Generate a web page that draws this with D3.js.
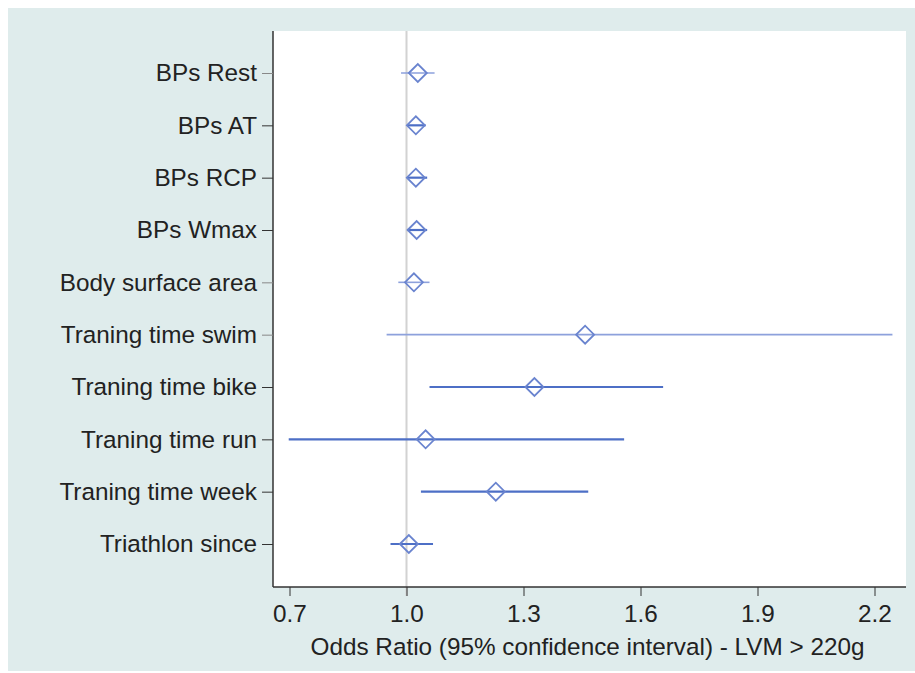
<!DOCTYPE html>
<html>
<head>
<meta charset="utf-8">
<script src="https://cdn.jsdelivr.net/npm/d3@7"></script>
<style>
  body { margin: 0; background: #fff; }
  text { font-family: "Liberation Sans", Arial, sans-serif; fill: #222; }
</style>
</head>
<body>
<svg id="chart" width="915" height="673"></svg>
<script>
// odds ratios with 95% CI
var labels = ["BPs Rest", "BPs AT", "BPs RCP", "BPs Wmax", "Body surface area",
              "Traning time swim", "Traning time bike", "Traning time run",
              "Traning time week", "Triathlon since"];
var oddsRatio = [1.029, 1.024, 1.024, 1.026, 1.019, 1.458, 1.328, 1.049, 1.229, 1.006];
var ciLow     = [0.986, 1.002, 1.002, 1.002, 0.979, 0.949, 1.059, 0.698, 1.037, 0.959];
var ciHigh    = [1.072, 1.049, 1.053, 1.053, 1.059, 2.246, 1.658, 1.558, 1.466, 1.068];
var xTicks = [0.7, 1.0, 1.3, 1.6, 1.9, 2.2];
var xTitle = "Odds Ratio (95% confidence interval) - LVM > 220g";

// rows drawn in the paler shade in the original
var paleRows = ["BPs Rest", "Body surface area", "Traning time swim"];

var svg = d3.select("#chart");
var plot = { left: 273, right: 906, top: 31, bottom: 587 };
var fontSize = "24.3px";

// panel background
svg.append("rect").attr("x", 8).attr("y", 8).attr("width", 907).attr("height", 663)
    .attr("fill", "#dfecec");
svg.append("rect")
    .attr("x", plot.left).attr("y", plot.top)
    .attr("width", plot.right - plot.left).attr("height", plot.bottom - plot.top)
    .attr("fill", "#fff");

var x = d3.scaleLinear().domain([1.0, 2.2]).range([406.5, 874.5]);
var y = d3.scalePoint().domain(labels).range([73, 544]);

// reference line at OR = 1
svg.append("line")
    .attr("x1", x(1)).attr("x2", x(1))
    .attr("y1", plot.top).attr("y2", plot.bottom + 9)
    .attr("stroke", "#d2d2d2").attr("stroke-width", 2);

// axes
var xAxis = svg.append("g")
    .attr("transform", "translate(0," + plot.bottom + ")")
    .call(d3.axisBottom(x).tickValues(xTicks).tickFormat(d3.format(".1f")).tickSize(9).tickPadding(9));
xAxis.select(".domain").attr("d", "M" + plot.left + ",0H" + plot.right).attr("stroke", "#333").attr("stroke-width", 1.5);
xAxis.selectAll(".tick line").attr("stroke", "#333");
xAxis.selectAll(".tick text").style("font-size", fontSize).attr("fill", "#222");

var yAxis = svg.append("g")
    .attr("transform", "translate(" + plot.left + ",0)")
    .call(d3.axisLeft(y).tickSize(11).tickPadding(5));
yAxis.select(".domain").attr("d", "M0," + plot.top + "V" + plot.bottom).attr("stroke", "#333").attr("stroke-width", 1.5);
yAxis.selectAll(".tick line").attr("stroke", function(d) { return paleRows.indexOf(d) >= 0 ? "#888" : "#333"; });
yAxis.selectAll(".tick text").style("font-size", fontSize).attr("fill", "#222");

svg.append("text")
    .attr("x", (plot.left + plot.right) / 2 - 2).attr("y", 655)
    .attr("text-anchor", "middle")
    .style("font-size", fontSize)
    .text(xTitle);

// CI lines and diamonds
var rows = labels.map(function(d, i) {
    return { name: d, or: oddsRatio[i], lo: ciLow[i], hi: ciHigh[i] };
});

var g = svg.append("g").selectAll("g").data(rows).enter().append("g");

g.append("line")
    .attr("x1", function(d) { return x(d.lo); })
    .attr("x2", function(d) { return x(d.hi); })
    .attr("y1", function(d) { return y(d.name); })
    .attr("y2", function(d) { return y(d.name); })
    .attr("stroke", function(d) { return paleRows.indexOf(d.name) >= 0 ? "#8da1dc" : "#4d6fc6"; })
    .attr("stroke-width", function(d) { return paleRows.indexOf(d.name) >= 0 ? 1.6 : 2.2; });

g.append("path")
    .attr("d", function(d) {
        var cx = x(d.or), cy = y(d.name), r = 9;
        return "M" + (cx - r) + "," + cy + "L" + cx + "," + (cy - r) + "L" + (cx + r) + "," + cy + "L" + cx + "," + (cy + r) + "Z";
    })
    .attr("fill", "none")
    .attr("stroke", "#6a84cf")
    .attr("stroke-width", 1.8);
</script>
</body>
</html>
